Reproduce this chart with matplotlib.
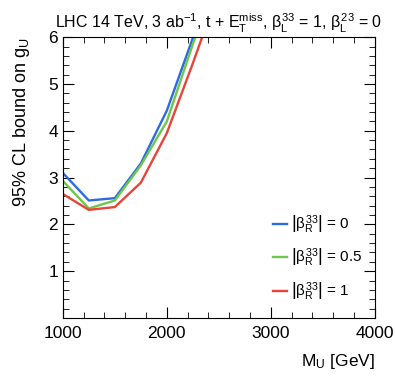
import numpy as np
import matplotlib
matplotlib.use("Agg")
import matplotlib.pyplot as plt
from matplotlib.ticker import MultipleLocator

plt.rcParams['font.family'] = ['Liberation Sans', 'DejaVu Sans']
plt.rcParams['mathtext.fontset'] = 'custom'
plt.rcParams['mathtext.rm'] = 'Liberation Sans'
plt.rcParams['mathtext.it'] = 'Liberation Sans'
plt.rcParams['mathtext.bf'] = 'Liberation Sans:bold'

# leptoquark mass points [GeV]
mass = [1000, 1250, 1500, 1750, 2000, 2250, 2500]
# 95% CL bound on g_U for each |beta_R^33|
bound_b0 = [3.10, 2.51, 2.56, 3.30, 4.43, 5.98, 7.6]
bound_b05 = [2.93, 2.34, 2.51, 3.26, 4.20, 5.85, 7.4]
bound_b1 = [2.65, 2.31, 2.37, 2.89, 3.95, 5.44, 7.0]

labels = [r'$\left|\beta_R^{33}\right|$ = 0',
          r'$\left|\beta_R^{33}\right|$ = 0.5',
          r'$\left|\beta_R^{33}\right|$ = 1']
colors = ['#2c6be0', '#6cc74a', '#e8443a']

fig = plt.figure(figsize=(3.95, 3.79), dpi=100)
ax = fig.add_axes([0.159, 0.161, 0.79, 0.741])

for y, lab, c in zip([bound_b0, bound_b05, bound_b1], labels, colors):
    ax.plot(mass, y, color=c, lw=1.7, label=lab)

ax.set_xlim(1000, 4000)
ax.set_ylim(0, 6)
ax.xaxis.set_major_locator(MultipleLocator(1000))
ax.xaxis.set_minor_locator(MultipleLocator(200))
ax.yaxis.set_major_locator(MultipleLocator(1))
ax.yaxis.set_minor_locator(MultipleLocator(0.2))
ax.set_yticks([1, 2, 3, 4, 5, 6])
ax.tick_params(which='both', direction='in', top=True, right=True, labelsize=12.5)
ax.tick_params(which='major', length=8)
ax.tick_params(which='minor', length=4)
ax.tick_params(axis='x', pad=6)

ax.set_xlabel(r'M$_U$ [GeV]', fontsize=12.5, loc='right', labelpad=8)
ax.set_ylabel(r'95% CL bound on g$_U$', fontsize=13, loc='top', labelpad=12)
ax.set_title(r'LHC 14 TeV, 3 ab$^{-1}$, t + E$_T^{miss}$, $\beta_L^{33}$ = 1, $\beta_L^{23}$ = 0',
             fontsize=11.5, pad=6)

ax.legend(loc='lower right', frameon=False, fontsize=11, handlelength=0.9,
          handletextpad=0.3, labelspacing=0.75, bbox_to_anchor=(1.005, 0.005))

fig.savefig('out.png', dpi=100)
